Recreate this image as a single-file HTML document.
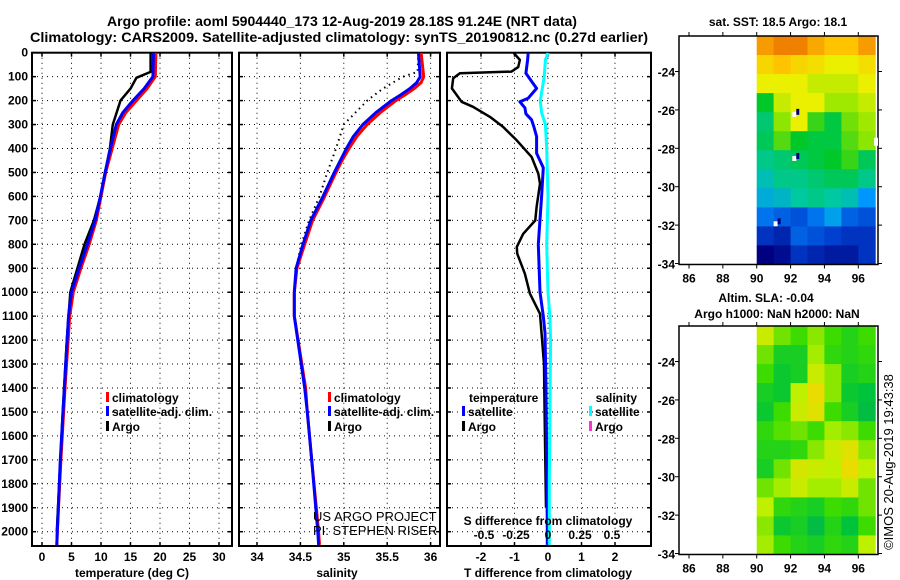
<!DOCTYPE html>
<html><head><meta charset="utf-8"><style>
html,body{margin:0;padding:0;background:#fff;}
svg{display:block;font-family:"Liberation Sans",Arial,sans-serif;}
text{font-weight:bold;font-size:12px;fill:#000;}
</style></head><body>
<svg id="chart" width="900" height="580" viewBox="0 0 900 580" xmlns="http://www.w3.org/2000/svg">
<text x="342" y="26" text-anchor="middle" style="font-size:14px" textLength="470" lengthAdjust="spacingAndGlyphs">Argo profile: aoml 5904440_173 12-Aug-2019 28.18S 91.24E (NRT data)</text>
<text x="339" y="42" text-anchor="middle" style="font-size:14px" textLength="618" lengthAdjust="spacingAndGlyphs">Climatology: CARS2009. Satellite-adjusted climatology: synTS_20190812.nc (0.27d earlier)</text>
<g id="g"></g>
</svg>
<script>
const tDepth = [0,100,150,200,250,300,400,500,600,700,800,900,1000,1100,1400,1700,2000,2055];
const tClim  = [19.3,19.2,17.8,16.0,14.2,13.0,11.9,10.8,10.0,9.2,8.0,6.6,5.3,4.7,3.9,3.2,2.6,2.5];
const tSat   = [18.9,18.8,17.3,15.4,13.7,12.6,11.6,10.7,9.9,9.0,7.7,6.3,5.0,4.5,3.8,3.1,2.6,2.5];
const tArgoDepth = [0,80,105,150,200,300,400,500,600,700,800,900,1000,1200,1500,2000];
const tArgo  = [18.4,18.4,16.0,15.0,13.3,12.0,11.5,10.7,9.9,8.8,7.2,6.0,4.8,4.2,3.5,2.5];
const sDepth = [0,100,125,150,175,200,250,300,350,400,450,500,600,700,800,900,1000,1100,1400,1500,1700,2000,2055];
const sClim  = [35.89,35.92,35.89,35.81,35.71,35.60,35.42,35.27,35.15,35.06,34.98,34.91,34.78,34.64,34.55,34.46,34.43,34.43,34.56,34.58,34.63,34.71,34.72];
const sSat   = [35.86,35.88,35.84,35.76,35.66,35.55,35.37,35.22,35.11,35.03,34.96,34.89,34.76,34.62,34.53,34.45,34.43,34.43,34.55,34.58,34.63,34.70,34.71];
const sArgoDepth = [0,80,100,150,200,300,400,500,600,700,800,900,1000];
const sArgo  = [35.86,35.85,35.68,35.45,35.27,35.0,34.91,34.81,34.72,34.60,34.51,34.45,34.43];
const dtDepth = [0,30,60,79,86,107,149,205,226,268,310,366,435,505,547,644,700,756,811,839,923,1006,1090,1174,1300,1500,1700,1900];
const dtArgo  = [-1.03,-0.84,-0.89,-1.09,-2.63,-2.83,-2.87,-2.58,-2.24,-1.73,-1.34,-0.93,-0.49,-0.29,-0.24,-0.34,-0.38,-0.74,-0.93,-0.92,-0.69,-0.54,-0.24,-0.19,-0.12,-0.1,-0.08,-0.06];
const dtSatDepth = [0,30,86,120,149,190,205,230,255,280,310,350,390,420,480,600,800,1000,1100,1170,1400,1700,2000,2055];
const dtSat   = [-0.59,-0.61,-0.66,-0.49,-0.34,-0.59,-0.84,-0.69,-0.66,-0.49,-0.42,-0.34,-0.34,-0.34,-0.14,-0.19,-0.29,-0.24,-0.14,-0.09,-0.06,-0.04,-0.02,-0.02];
const dsSatDepth = [0,30,100,200,250,300,400,600,800,1000,1100,1200,1500,1800,2055];
const dsSat   = [0.0,-0.02,-0.03,-0.06,-0.05,-0.02,-0.01,0.0,-0.01,0.0,0.015,0.02,0.015,0.01,0.01];
const depthTicks = [0,100,200,300,400,500,600,700,800,900,1000,1100,1200,1300,1400,1500,1600,1700,1800,1900,2000];
const tTicks = [0,5,10,15,20,25,30];
const sTicks = [34,34.5,35,35.5,36];
const dtTicks = [-2,-1,0,1,2];
const dsTicks = [-0.5,-0.25,0,0.25,0.5];
const dsTickLabels = ['-0.5','-0.25','0','0.25','0.5'];
const lonTicks = [86,88,90,92,94,96];
const latTicks = [-24,-26,-28,-30,-32,-34];
const sstGrid = [
[18.8,19,19,18.7,18.5,18.5,18.8],
[18.3,18.5,18.3,18.2,18.0,18.0,18.2],
[18,18,18,17.8,17.8,17.8,18],
[17,17.8,18,18,17.6,17.6,17.8],
[16.7,17.5,18,17.2,16.9,17.4,17.6],
[16.8,17.3,17,16.9,16.9,17.3,17.5],
[16.6,16.7,16.8,16.9,17,17.2,16.8],
[16.4,16.6,16.6,16.7,16.8,16.8,16.6],
[16.2,16.3,16.5,16.6,16.5,16.4,16.0],
[15.8,15.7,15.6,15.8,16.1,15.7,15.6],
[15.4,15.3,15.7,15.6,15.5,15.4,15.4],
[15.0,15.1,15.4,15.3,15.2,15.2,15.4]];
const slaGrid = [
[0.6,0.2,0,0.3,0,-0.2,0],
[0.2,-0.3,-0.3,0.4,-0.1,-0.2,-0.1],
[0,-0.4,-0.3,0.6,0.3,-0.3,-0.2],
[-0.3,-0.4,0.5,0.9,0.3,-0.4,-0.5],
[-0.4,0,0.6,0.8,0,-0.3,-0.6],
[-0.1,0.1,0.2,0,0.4,0.3,0],
[-0.2,-0.2,-0.1,0.3,0.6,0.8,0.3],
[-0.3,0.2,0.7,0.6,0.5,0.9,0.5],
[0.2,0.4,0.6,0.4,0.4,0.6,0.2],
[0.5,-0.1,-0.2,-0.3,0,-0.1,0.2],
[0.3,-0.4,-0.3,-0.6,-0.2,-0.5,0],
[0.4,0,-0.2,-0.3,-0.1,-0.2,0.5]];

const NS='http://www.w3.org/2000/svg';
const G=document.getElementById('g');
function mk(tag,attrs,parent){const e=document.createElementNS(NS,tag);for(const k in attrs)e.setAttribute(k,attrs[k]);(parent||G).appendChild(e);return e;}
function txt(s,x,y,anchor,parent,style){const e=mk('text',{x:x,y:y,'text-anchor':anchor||'start'},parent);if(style)e.setAttribute('style',style);e.textContent=s;return e;}
const TOP=52.7, BOT=546;
const yD=d=>TOP+d*0.2395;
const panels=[
 {l:32,r:232,x:v=>42+5.9*v,ticks:tTicks,name:'temperature-panel'},
 {l:239,r:440,x:v=>257+86.8*(v-34),ticks:sTicks,name:'salinity-panel'},
 {l:447,r:651,x:v=>548+33.5*v,ticks:dtTicks,name:'difference-panel'}];
panels.forEach((p,i)=>{
 const g=mk('g',{});
 
 
 const cid='clip'+i;
 const cp=mk('clipPath',{id:cid},g);mk('rect',{x:p.l,y:TOP,width:p.r-p.l,height:BOT-TOP},cp);
 p.g=g;p.cid=cid;
 depthTicks.forEach(d=>{
  const l=mk('line',{x1:p.l,x2:p.r,y1:yD(d),y2:yD(d),stroke:'#000','stroke-width':1,'stroke-dasharray':'1 4'},g);
  
  mk('line',{x1:p.l,x2:p.l+4,y1:yD(d),y2:yD(d),stroke:'#000','stroke-width':1.5},g);
  mk('line',{x1:p.r-4,x2:p.r,y1:yD(d),y2:yD(d),stroke:'#000','stroke-width':1.5},g);
 });
 p.ticks.forEach(v=>{
  const l=mk('line',{x1:p.x(v),x2:p.x(v),y1:TOP,y2:BOT,stroke:'#000','stroke-width':1,'stroke-dasharray':'1 4'},g);
  
  mk('line',{x1:p.x(v),x2:p.x(v),y1:BOT-4,y2:BOT,stroke:'#000','stroke-width':1.5},g);
  mk('line',{x1:p.x(v),x2:p.x(v),y1:TOP,y2:TOP+4,stroke:'#000','stroke-width':1.5},g);
  const t=txt(String(v),p.x(v),561,'middle',g);
  
 });
 const fr=mk('rect',{x:p.l,y:TOP,width:p.r-p.l,height:BOT-TOP,fill:'none',stroke:'#000','stroke-width':2},g);
 
});
depthTicks.forEach(d=>{const t=txt(String(d),28,yD(d)+4,'end');});
function line(p,vals,depths,color,w,name,dash){
 const pts=vals.map((v,i)=>p.x(v).toFixed(1)+','+yD(depths[i]).toFixed(1)).join(' ');
 const e=mk('polyline',{points:pts,fill:'none',stroke:color,'stroke-width':w,'clip-path':'url(#'+p.cid+')','stroke-linejoin':'round'},p.g);
 if(dash)e.setAttribute('stroke-dasharray',dash);
 
}
const P1=panels[0],P2=panels[1],P3=panels[2];
line(P1,tClim,tDepth,'#ff0000',3,'temperature-climatology-line');
line(P1,tArgo,tArgoDepth,'#000',2.5,'temperature-argo-line');
line(P1,tSat,tDepth,'#0000ff',3,'temperature-satellite-line');
line(P2,sArgo,sArgoDepth,'#000',2,'salinity-argo-line','1.5 4');
line(P2,sClim,sDepth,'#ff0000',3,'salinity-climatology-line');
line(P2,sSat,sDepth,'#0000ff',3,'salinity-satellite-line');
const P3s={x:v=>548+128*v,g:P3.g,cid:P3.cid};
line(P3,dtArgo,dtDepth,'#000',2.5,'t-diff-argo-line');
line(P3,dtSat,dtSatDepth,'#0000ff',3,'t-diff-satellite-line');
line(P3s,dsSat,dsSatDepth,'#00ffff',3,'s-diff-satellite-line');
function leg(x,y,color,label,name){
 const g=mk('g',{});
 mk('rect',{x:x,y:y-10,width:3,height:10,fill:color},g);
 txt(label,x+6,y,'start',g);
}
leg(106,402,'#ff0000','climatology','legend-climatology');
leg(106,416,'#0000ff','satellite-adj. clim.','legend-satellite-adj');
leg(106,431,'#000','Argo','legend-argo');
leg(328,402,'#ff0000','climatology','legend-sal-climatology');
leg(328,416,'#0000ff','satellite-adj. clim.','legend-sal-satellite-adj');
leg(328,431,'#000','Argo','legend-sal-argo');
let t=txt('temperature',469,402,'start');
t=txt('salinity',637,402,'end');
leg(462,416,'#0000ff','satellite','legend-t-satellite');
leg(462,431,'#000','Argo','legend-t-argo');
leg(589,416,'#00ffff','satellite','legend-s-satellite');
leg(589,431,'#ff33cc','Argo','legend-s-argo');
t=txt('US ARGO PROJECT',313,521,'start',null,'font-weight:normal;font-size:13px');t.setAttribute('clip-path','url(#clip1)');
t=txt('PI: STEPHEN RISER',313,535,'start',null,'font-weight:normal;font-size:13px');t.setAttribute('clip-path','url(#clip1)');
t=txt('S difference from climatology',548,525,'middle');
dsTicks.forEach((v,i)=>{const e=txt(dsTickLabels[i],P3s.x(v),539,'middle');});
t=txt('temperature (deg C)',132,577,'middle');
t=txt('salinity',337,577,'middle');
t=txt('T difference from climatology',548,577,'middle');
const ML=679,MR=878;
const xL=lon=>689+(lon-86)*16.93;
function jet(stops,v){
 if(v<=stops[0][0])return stops[0][1];
 for(let i=1;i<stops.length;i++){if(v<=stops[i][0]){const a=stops[i-1],b=stops[i],f=(v-a[0])/(b[0]-a[0]);
  return [0,1,2].map(k=>Math.round(a[1][k]+(b[1][k]-a[1][k])*f));}}
 return stops[stops.length-1][1];
}
function toRgb(s){return 'rgb('+s.join(',')+')';}
const sstStops=[[15,[0,0,128]],[15.5,[0,64,208]],[16,[0,150,255]],[16.5,[0,200,160]],[17,[0,200,40]],[17.5,[140,230,0]],[18,[235,240,0]],[18.5,[255,195,0]],[19,[240,128,0]]];
const slaStops=[[-1,[16,160,96]],[-0.5,[0,195,60]],[0,[60,220,0]],[0.5,[190,240,0]],[1,[245,215,0]]];
function map(top,grid,stops,name,cb){
 const g=mk('g',{});
 const yLat=lat=>top+36+((-22.15)-lat)*19.2;
 const rows=grid.length,latTop=-22.15,latBot=-34.05,dl=(latTop-latBot)/rows;
 grid.forEach((row,r)=>row.forEach((v,c)=>{
  const x0=xL(90+c),x1=Math.min(xL(91+c),MR);
  const e=mk('rect',{x:x0.toFixed(1),y:yLat(latTop-r*dl).toFixed(1),width:(x1-x0+0.5).toFixed(1),height:(dl*19.2+0.5).toFixed(1),fill:toRgb(jet(stops,v))},g);
  
 }));
 const b=top+36+(latTop-latBot)*19.2;
 mk('rect',{x:ML,y:top+36,width:MR-ML,height:b-top-36,fill:'none',stroke:'#000','stroke-width':1.5},g);
 lonTicks.forEach(lon=>{mk('line',{x1:xL(lon),x2:xL(lon),y1:b,y2:b+4,stroke:'#000'},g);mk('line',{x1:xL(lon),x2:xL(lon),y1:top+36,y2:top+32,stroke:'#000'},g);
  const e=txt(String(lon),xL(lon),b+18,'middle',g);});
 latTicks.forEach(lat=>{const y=yLat(lat);mk('line',{x1:ML-4,x2:ML,y1:y,y2:y,stroke:'#000'},g);mk('line',{x1:MR,x2:MR+4,y1:y,y2:y,stroke:'#000'},g);
  const e=txt(String(lat),675,y+5,'end',g);});
 if(cb)cb(g);
}
map(0,sstGrid,sstStops,'sst-map',g=>{
 [[92.1,-26.1],[92.1,-28.4],[91,-31.8]].forEach(p=>{mk('rect',{x:xL(p[0]),y:36+(-22.15-p[1])*19.2,width:4,height:5,fill:'#fff'},g);mk('rect',{x:xL(p[0])+4,y:36+(-22.15-p[1])*19.2-3,width:3,height:6,fill:'#00007f'},g);});
 mk('rect',{x:874,y:36+5.3*19.2,width:4,height:8,fill:'#fff'},g);
});
map(290,slaGrid,slaStops,'sla-map');
t=txt('sat. SST: 18.5 Argo: 18.1',778,26,'middle');
t=txt('Altim. SLA: -0.04',766,302,'middle');
t=txt('Argo h1000: NaN h2000: NaN',777,318,'middle');
t=txt('©IMOS 20-Aug-2019 19:43:38',0,0,'middle',null,'font-weight:normal;font-size:13px');t.setAttribute('transform','translate(893,462) rotate(-90)');
</script>
</body></html>
